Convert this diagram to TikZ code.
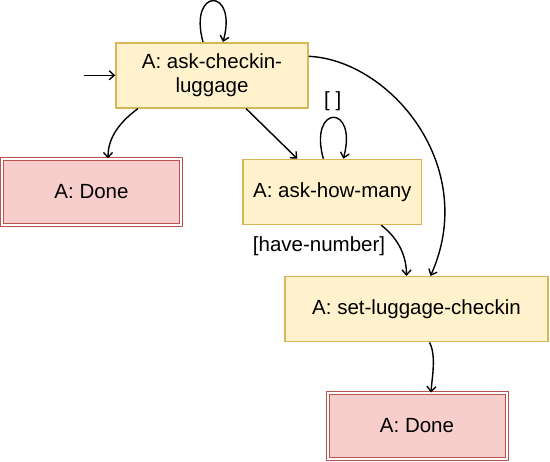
\documentclass[tikz,border=0pt]{standalone}
\usepackage{fontspec}
\setmainfont{Liberation Sans}
\usepackage{xcolor}
\usetikzlibrary{arrows.meta}
\definecolor{yfill}{HTML}{FFF2CC}
\definecolor{ydraw}{HTML}{D6B656}
\definecolor{rfill}{HTML}{F8CECC}
\definecolor{rdraw}{HTML}{B85450}
\tikzset{
  actbox/.style={draw=ydraw, fill=yfill, line width=1.5pt, minimum width=#1, minimum height=65pt, inner sep=0pt, align=center},
  actbox/.default=180pt,
  donebox/.style={draw=rdraw, fill=rfill, line width=1pt, double=white, double distance=2pt, minimum width=179pt, minimum height=66pt, inner sep=0pt},
  trans/.style={line width=1.4pt, -{Straight Barb[length=5pt,width=9pt]}},
}

\begin{document}
\begin{tikzpicture}[x=1pt, y=-1pt, font=\fontsize{20.5}{24}\selectfont]
        \useasboundingbox (0,0) rectangle (550,462);
        %KOORDINAT
        \coordinate (init) at (84,75.3);
        %STATES
        \node[actbox=192pt] (ack) at (212,75.3) {A: ask-checkin-\\luggage};
        \node[donebox] (done1) at (91.5,192) {A: Done};
        \node[actbox=178.5pt] (ahm) at (332.3,192) {A: ask-how-many};
        \node[actbox=263pt] (slc) at (416.5,309.2) {A: set-luggage-checkin};
        \node[donebox] (done2) at (417,426) {A: Done};
        %TRANSISI
        \draw[trans] (init) -- (ack.west);
        \draw[trans] ([xshift=-9pt]ack.north) .. controls +(-15,-55) and +(15,-55) .. ([xshift=11pt]ack.north);
        \draw[trans] ([xshift=-74pt]ack.south) .. controls +(-23,17) and +(0,-17) .. ([xshift=16.5pt]done1.north);
        \draw[trans] ([xshift=34pt]ack.south) -- ([xshift=-35pt]ahm.north);
        \draw[trans] ([xshift=-9pt]ahm.north) .. controls +(-15,-55) and +(15,-55) .. ([xshift=11pt]ahm.north);
        \draw[trans] ([xshift=49pt]ahm.south) .. controls +(17,13) and +(0,-20) .. ([xshift=-10pt]slc.north);
        \draw[trans] ([yshift=19pt]ack.east) .. controls +(82,4) and +(49,-109) .. ([xshift=14pt]slc.north);
        \draw[trans] ([xshift=13pt]slc.south) .. controls +(7,13) and +(1,-15) .. ([xshift=14pt]done2.north);
        %LABEL
        \node (lblloop) at (332.7,101.5) {[ ]};
        \node (lblnum) at (319,246.5) {[have-number]};
    \end{tikzpicture}
\end{document}
